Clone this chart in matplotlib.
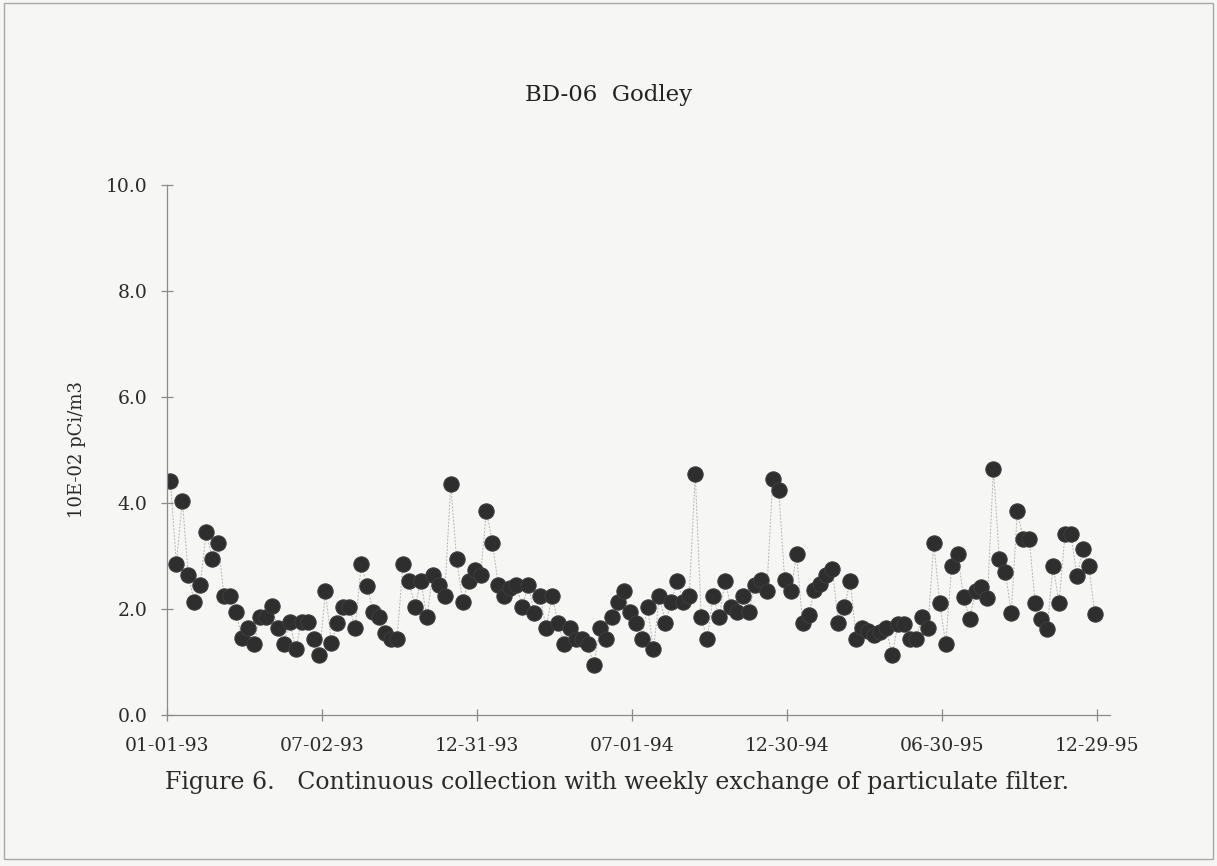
import numpy as np
import pandas as pd
import matplotlib
matplotlib.use('Agg')
import matplotlib.pyplot as plt
import matplotlib.dates as mdates
from matplotlib.patches import Rectangle

# ── Datos (lectura del gráfico, 10E-02 pCi/m3, semanal) ───────────────────────
FECHA_INICIO = '1993-01-05'
valores = [
    4.42, 2.85, 4.04, 2.65, 2.14, 2.45, 3.45, 2.95, 3.24, 2.25,
    2.25, 1.94, 1.45, 1.64, 1.34, 1.85, 1.85, 2.06, 1.64, 1.34,
    1.76, 1.24, 1.76, 1.76, 1.43, 1.13, 2.33, 1.35, 1.74, 2.04,
    2.04, 1.64, 2.85, 2.44, 1.95, 1.85, 1.54, 1.43, 1.43, 2.85,
    2.53, 2.04, 2.53, 1.84, 2.65, 2.45, 2.25, 4.35, 2.94, 2.14,
    2.52, 2.74, 2.64, 3.85, 3.24, 2.45, 2.25, 2.40, 2.45, 2.04,
    2.45, 1.93, 2.25, 1.64, 2.25, 1.74, 1.33, 1.64, 1.43, 1.43,
    1.33, 0.94, 1.64, 1.43, 1.84, 2.14, 2.33, 1.95, 1.74, 1.43,
    2.04, 1.24, 2.25, 1.74, 2.14, 2.53, 2.14, 2.25, 4.55, 1.84,
    1.43, 2.25, 1.84, 2.53, 2.04, 1.95, 2.25, 1.95, 2.45, 2.55,
    2.33, 4.45, 4.25, 2.55, 2.33, 3.03, 1.74, 1.88, 2.35, 2.48,
    2.64, 2.75, 1.74, 2.04, 2.53, 1.43, 1.64, 1.58, 1.50, 1.56,
    1.64, 1.13, 1.72, 1.72, 1.43, 1.43, 1.84, 1.64, 3.24, 2.12,
    1.33, 2.81, 3.03, 2.22, 1.82, 2.33, 2.42, 2.20, 4.64, 2.94,
    2.70, 1.92, 3.84, 3.32, 3.32, 2.12, 1.82, 1.62, 2.81, 2.12,
    3.41, 3.41, 2.62, 3.13, 2.81, 1.90,
]
fechas = pd.date_range(FECHA_INICIO, periods=len(valores), freq='7D')

ticks_x = ['1993-01-01', '1993-07-02', '1993-12-31', '1994-07-01',
           '1994-12-30', '1995-06-30', '1995-12-29']
etiquetas_x = ['01-01-93', '07-02-93', '12-31-93', '07-01-94',
               '12-30-94', '06-30-95', '12-29-95']
ticks_y = [0, 2, 4, 6, 8, 10]

TITULO = 'BD-06  Godley'
YLABEL = '10E-02 pCi/m3'
PIE = 'Figure 6.   Continuous collection with weekly exchange of particulate filter.'

# ── Figura ────────────────────────────────────────────────────────────────────
plt.rcParams['font.family'] = ['DejaVu Serif']
fig = plt.figure(figsize=(12.17, 8.66), dpi=100, facecolor='#f6f6f4')
fig.patches.append(Rectangle((0.003, 0.008), 0.994, 0.989, transform=fig.transFigure,
                             fill=False, edgecolor='#a8a8a8', lw=1.0))

ax = fig.add_axes([0.1372, 0.1744, 0.775, 0.612])
ax.set_facecolor('none')
ax.plot(fechas, valores, color='#b5b5b5', lw=0.7, ls=(0, (2, 1.5)), zorder=1)
ax.plot(fechas, valores, ls='none', marker='o', ms=11, mfc='#2e2e2e',
        mec='#3c3c3c', mew=0.8, zorder=2)

ax.set_ylim(0, 10)
ax.set_xlim(pd.Timestamp('1993-01-01'), pd.Timestamp('1996-01-13'))
ax.set_yticks(ticks_y)
ax.set_yticklabels([f'{v:.1f}' for v in ticks_y])
ax.set_xticks([pd.Timestamp(t) for t in ticks_x])
ax.set_xticklabels(etiquetas_x)

for s in ['top', 'right']:
    ax.spines[s].set_visible(False)
for s in ['left', 'bottom']:
    ax.spines[s].set_color('#8a8a8a')
    ax.spines[s].set_linewidth(0.9)
ax.tick_params(direction='inout', length=8, width=0.9, color='#8a8a8a',
               labelsize=13.5, labelcolor='#2a2a2a')
ax.tick_params(axis='y', pad=10)
ax.tick_params(axis='x', pad=12)

ax.set_ylabel(YLABEL, fontsize=13, color='#2a2a2a', labelpad=14)
fig.text(0.5, 0.89, TITULO, ha='center', va='center', fontsize=16.5,
         color='#222222')
fig.text(0.507, 0.096, PIE, ha='center', va='center', fontsize=17,
         color='#2a2a2a')

fig.savefig('out.png', dpi=100, facecolor=fig.get_facecolor())
